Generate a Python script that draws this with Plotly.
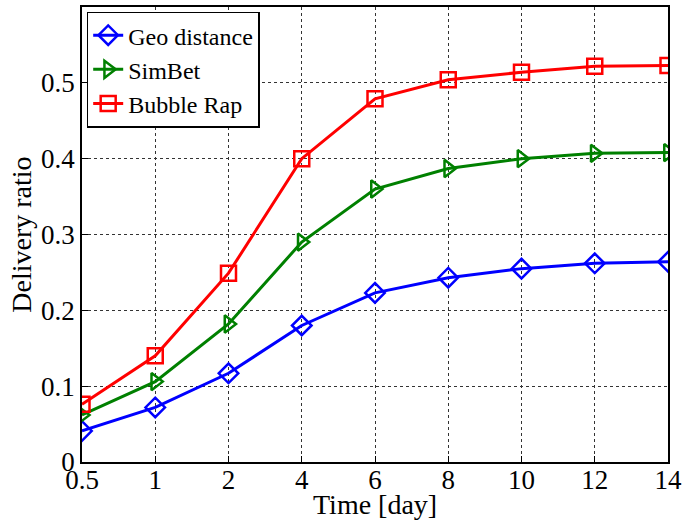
import plotly.graph_objects as go

days = ["0.5", "1", "2", "4", "6", "8", "10", "12", "14"]
geo = [0.041, 0.072, 0.117, 0.180, 0.223, 0.243, 0.255, 0.262, 0.264]
simbet = [0.062, 0.106, 0.182, 0.290, 0.360, 0.387, 0.400, 0.407, 0.408]
bubble = [0.076, 0.140, 0.249, 0.400, 0.479, 0.504, 0.514, 0.522, 0.523]
y_ticks = [0, 0.1, 0.2, 0.3, 0.4, 0.5]
y_tick_labels = ["0", "0.1", "0.2", "0.3", "0.4", "0.5"]

xi = list(range(len(days)))
font = "Liberation Serif, Times New Roman, serif"

fig = go.Figure()
series = [
    ("Geo distance", geo, "#0000ff", "diamond-open"),
    ("SimBet", simbet, "#008000", "triangle-right-open"),
    ("Bubble Rap", bubble, "#ff0000", "square-open"),
]
for name, vals, col, sym in series:
    fig.add_trace(go.Scatter(
        x=xi, y=vals, name=name, mode="lines+markers",
        line=dict(color=col, width=3),
        marker=dict(symbol=sym, size=15, color=col, line=dict(width=2.5, color=col)),
    ))

axis_common = dict(
    showline=True, linecolor="black", linewidth=1.5, mirror=True,
    ticks="inside", ticklen=6, tickcolor="black",
    showgrid=True, gridcolor="#333333", griddash="dot", gridwidth=1,
    zeroline=False,
    tickfont=dict(family=font, size=27, color="black"),
)

fig.update_layout(
    width=687, height=520,
    margin=dict(l=82, r=17, t=5, b=58),
    paper_bgcolor="white", plot_bgcolor="white",
    font=dict(family=font, color="black"),
    xaxis=dict(
        **axis_common,
        range=[0, len(days) - 1],
        tickmode="array", tickvals=xi, ticktext=days,
        ticklabelstandoff=-7,
    ),
    yaxis=dict(
        **axis_common,
        range=[0, 0.6],
        tickmode="array", tickvals=y_ticks, ticktext=y_tick_labels,
    ),
    legend=dict(
        x=0.008, y=0.99, xanchor="left", yanchor="top",
        bgcolor="white", bordercolor="black", borderwidth=1.5,
        font=dict(family=font, size=24, color="black"),
        itemwidth=30, tracegroupgap=0,
    ),
    annotations=[
        dict(text="Time [day]", xref="paper", yref="paper", x=0.5, y=-0.094,
             xanchor="center", yanchor="middle", showarrow=False,
             font=dict(family=font, size=28, color="black")),
        dict(text="Delivery ratio", xref="paper", yref="paper", x=-0.1037, y=0.5,
             xanchor="center", yanchor="middle", showarrow=False, textangle=-90,
             font=dict(family=font, size=28, color="black")),
    ],
)

fig.write_html("out.html")
